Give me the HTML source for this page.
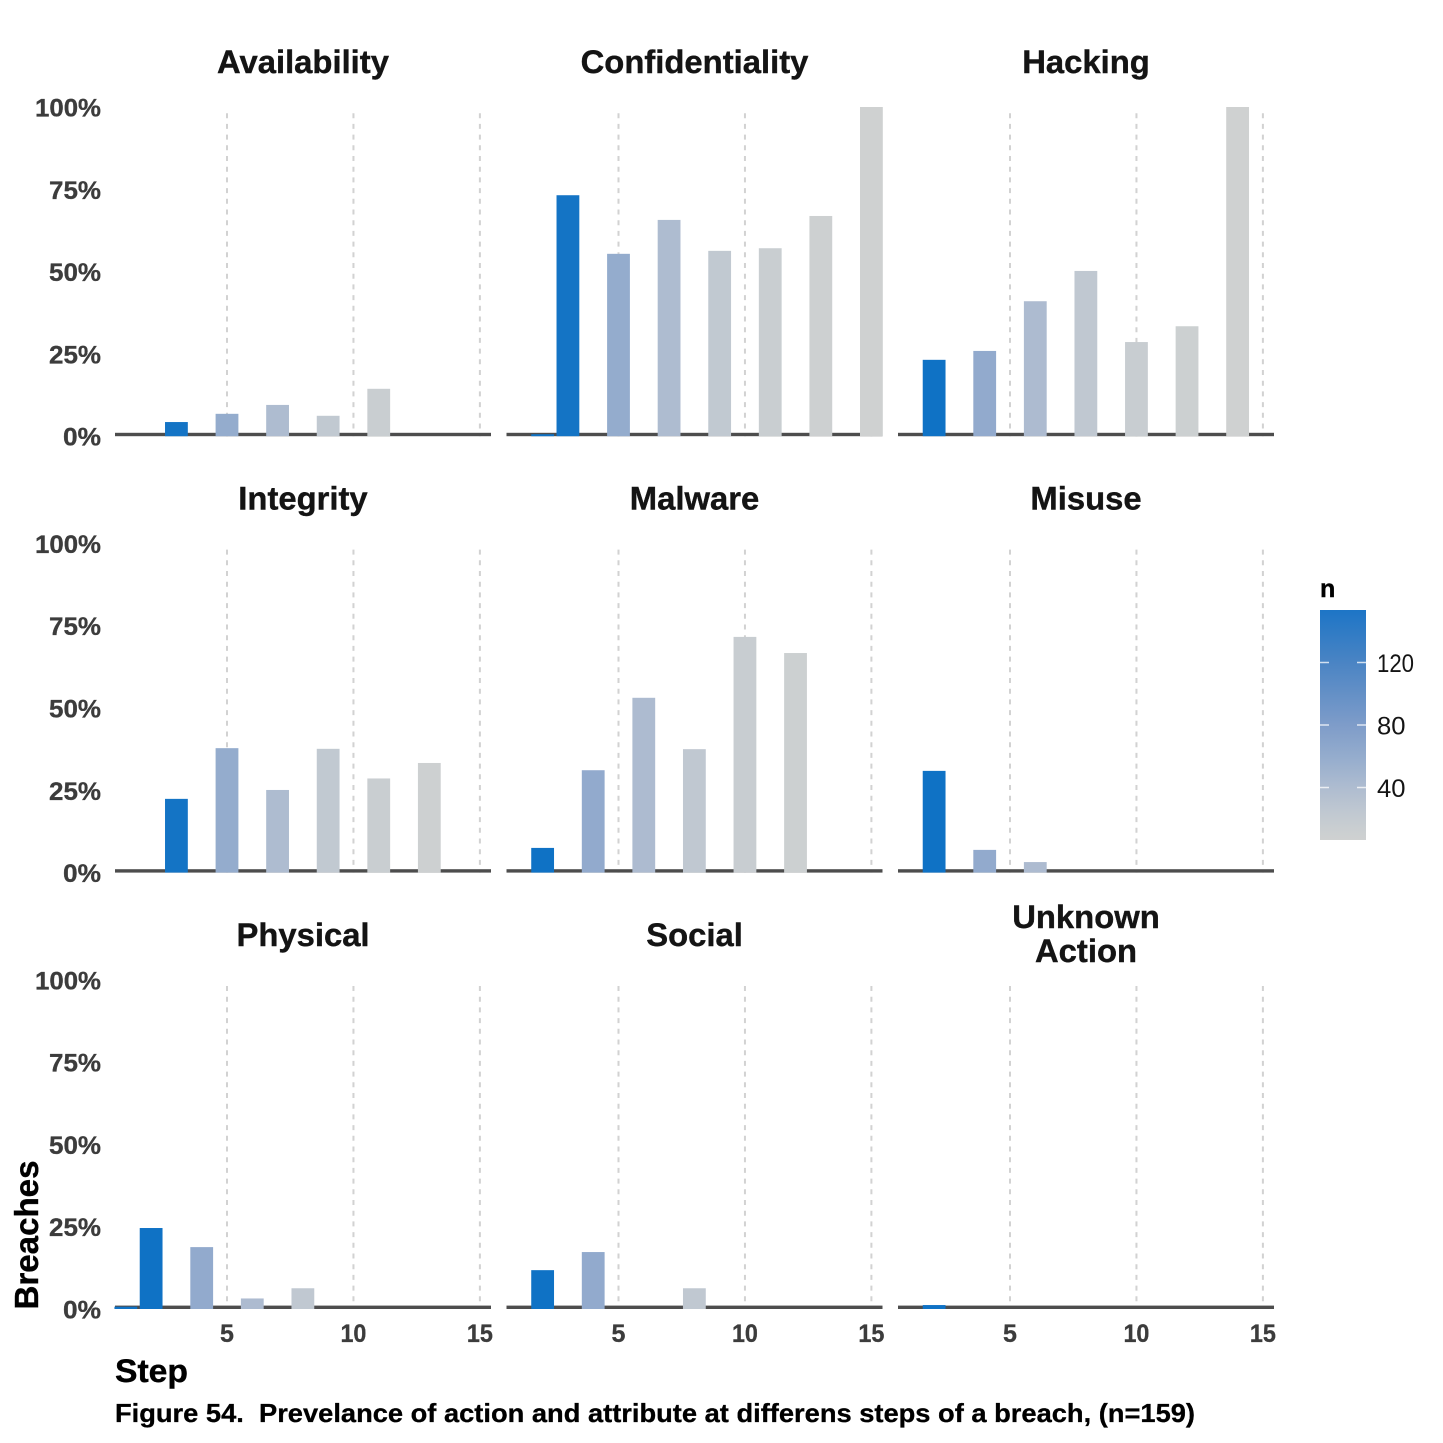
<!DOCTYPE html>
<html lang="en">
<head>
<meta charset="utf-8">
<title>Figure 54</title>
<style>
html,body{margin:0;padding:0;background:#fff;width:1443px;height:1443px;overflow:hidden}
svg{display:block;font-family:"Liberation Sans",Arial,sans-serif}
</style>
</head>
<body>
<svg id="chart" xmlns="http://www.w3.org/2000/svg" width="1443" height="1443" viewBox="0 0 1443 1443">
  <defs>
    <linearGradient id="legend-gradient" x1="0" y1="1" x2="0" y2="0"></linearGradient>
  </defs>
  <rect width="1443" height="1443" fill="#ffffff"></rect>
  <text transform="translate(38,1309.5) rotate(-90)" font-size="33" font-weight="700" fill="#000" stroke="#000" stroke-width="0.4" textLength="149" lengthAdjust="spacingAndGlyphs">Breaches</text>
  <text x="115" y="1382" font-size="32" font-weight="700" fill="#000" stroke="#000" stroke-width="0.4" textLength="73" lengthAdjust="spacingAndGlyphs">Step</text>
  <text x="115" y="1422" font-size="26" font-weight="700" fill="#000" stroke="#000" stroke-width="0.3" textLength="1080" lengthAdjust="spacingAndGlyphs" xml:space="preserve">Figure 54.  Prevelance of action and attribute at differens steps of a breach, (n=159)</text>
  <text x="1320" y="597" font-size="25" font-weight="700" fill="#000" stroke="#000" stroke-width="0.4">n</text>
</svg>
<script>
const steps = [1,2,3,4,5,6,7,8,9,10,11,12,13,14,15];
const stepCounts = [154,154,151,62,60,41,40,24,23,15,14,10,9,6,6];

const availability    = [0,0,4.3,0,6.8,0,9.5,0,6.2,0,14.4,0,0,0,0];
const confidentiality = [0,0.6,73.2,0,55.4,0,65.7,0,56.3,0,57.1,0,66.9,0,100];
const hacking         = [0,23.2,0,25.9,0,41,0,50.2,0,28.6,0,33.4,0,100,0];
const integrity       = [0,0,22.4,0,37.8,0,25.1,0,37.6,0,28.6,0,33.3,0,0];
const malware         = [0,7.5,0,31.1,0,53.1,0,37.5,0,71.6,0,66.7,0,0,0];
const misuse          = [0,30.9,0,6.9,0,3.2,0,0,0,0,0,0,0,0,0];
const physical        = [0.7,24.6,0,18.8,0,3.2,0,6.3,0,0,0,0,0,0,0];
const social          = [0,11.8,0,17.3,0,0,0,6.3,0,0,0,0,0,0,0];
const unknownAction   = [0,1.2,0,0,0,0,0,0,0,0,0,0,0,0,0];

const panelTitles = [["Availability"],["Confidentiality"],["Hacking"],["Integrity"],["Malware"],["Misuse"],["Physical"],["Social"],["Unknown","Action"]];
const panelSlugs = ["availability","confidentiality","hacking","integrity","malware","misuse","physical","social","unknown-action"];
const panelSeries = [availability,confidentiality,hacking,integrity,malware,misuse,physical,social,unknownAction];

const xTicks = [5,10,15];
const yTicks = [0,25,50,75,100];
const yTickLabels = ["0%","25%","50%","75%","100%"];
const legendTicks = [40,80,120];
const legendDomain = [6.4,153.6];
const colorCounts = [6,14,24,40,60,80,120,154];
const colorValues = ["#cfd1d1","#c9ced1","#c0c8d1","#aebcd0","#94accd","#7e9cc9","#4a84c4","#0f72c5"];
const legendTopColor = "#1d75c6";

const svg = document.getElementById('chart');
const NS = 'http://www.w3.org/2000/svg';

function make(tag, attrs, parent, text) {
  const el = document.createElementNS(NS, tag);
  for (const k in attrs) el.setAttribute(k, attrs[k]);
  if (text !== undefined) el.textContent = text;
  (parent || svg).appendChild(el);
  return el;
}
function xScale(col, step) { return 115 + col * 391.5 + 112 + (step - 5) * 25.29; }
function yZero(row) { return 436.2 + row * 436.4; }
function yScale(row, value) { return yZero(row) - value * 3.292; }
function hexToRgb(h) { return [1,3,5].map(function (i) { return parseInt(h.substr(i, 2), 16); }); }
function colorFor(n) {
  if (n <= colorCounts[0]) return colorValues[0];
  for (let i = 1; i < colorCounts.length; i++) {
    if (n <= colorCounts[i]) {
      const t = (n - colorCounts[i-1]) / (colorCounts[i] - colorCounts[i-1]);
      const a = hexToRgb(colorValues[i-1]);
      const b = hexToRgb(colorValues[i]);
      return 'rgb(' + a.map(function (v, j) { return Math.round(v + (b[j] - v) * t); }).join(',') + ')';
    }
  }
  return colorValues[colorValues.length - 1];
}

panelSeries.forEach(function (series, p) {
  const col = p % 3;
  const row = Math.floor(p / 3);
  const group = make('g', {});
  
  

  // title
  const lines = panelTitles[p];
  const titleX = 303 + col * 391.5;
  const titleBase = 73 + row * 436.4;
  lines.forEach(function (line, i) {
    const y = lines.length === 1 ? titleBase : titleBase - 18 + i * 34;
    const t = make('text', { x: titleX, y: y, 'text-anchor': 'middle', 'font-size': 32.8, 'font-weight': 700, fill: '#141414', stroke: '#141414', 'stroke-width': 0.4 }, group, line);
    
    
  });

  // gridlines
  xTicks.forEach(function (tick) {
    const x = xScale(col, tick);
    const g = make('line', { x1: x, x2: x, y1: yZero(row) - 323, y2: yZero(row), stroke: '#d2d2d2', 'stroke-width': 2, 'stroke-dasharray': '5 5.7' }, group);
    
    
  });

  // baseline
  const left = 115 + col * 391.5;
  const base = make('rect', { x: left, y: yZero(row) - 3.4, width: 376, height: 3.4, fill: '#4d4d4d' }, group);
  
  

  // bars
  series.forEach(function (value, i) {
    if (!value) return;
    const step = steps[i];
    const top = yScale(row, value);
    const r = make('rect', { x: xScale(col, step) - 11.4, y: top, width: 22.8, height: yZero(row) - top, fill: colorFor(stepCounts[i]) }, group);
    
    
  });

  // y tick labels (left column)
  if (col === 0) {
    yTicks.forEach(function (tick, i) {
      const widths = [38, 52, 52, 52, 66];
      const lab = make('text', { x: 101, y: yScale(row, tick) + 9.5, 'text-anchor': 'end', 'font-size': 25, 'font-weight': 700, fill: '#3c3c3c', stroke: '#3c3c3c', 'stroke-width': 0.3, textLength: widths[i], lengthAdjust: 'spacingAndGlyphs' }, group, yTickLabels[i]);
      
      
    });
  }

  // x tick labels (bottom row)
  if (row === 2) {
    xTicks.forEach(function (tick) {
      const tickText = String(tick);
      const attrs = { x: xScale(col, tick), y: 1342, 'text-anchor': 'middle', 'font-size': 25, 'font-weight': 700, fill: '#3c3c3c', stroke: '#3c3c3c', 'stroke-width': 0.3 };
      if (tickText.length > 1) { attrs.textLength = 26; attrs.lengthAdjust = 'spacingAndGlyphs'; }
      const lab = make('text', attrs, group, tickText);
      
      
    });
  }
});

// legend colour bar
const grad = document.getElementById('legend-gradient');
colorCounts.forEach(function (n, i) {
  const off = Math.max(0, Math.min(1, (n - legendDomain[0]) / (legendDomain[1] - legendDomain[0])));
  const stopColor = i === colorCounts.length - 1 ? legendTopColor : colorValues[i];
  make('stop', { offset: off, 'stop-color': stopColor }, grad);
});
const legendTop = 610;
const legendBottom = 840;
function legendY(n) { return legendBottom - (n - legendDomain[0]) / (legendDomain[1] - legendDomain[0]) * (legendBottom - legendTop); }
const legendBar = make('rect', { x: 1320, y: legendTop, width: 46, height: legendBottom - legendTop, fill: 'url(#legend-gradient)' });


legendTicks.forEach(function (n) {
  const y = legendY(n);
  const tl = make('line', { x1: 1320, x2: 1329, y1: y, y2: y, stroke: '#ffffff', 'stroke-opacity': 0.75, 'stroke-width': 1.5 });
  
  
  const tr = make('line', { x1: 1357, x2: 1366, y1: y, y2: y, stroke: '#ffffff', 'stroke-opacity': 0.75, 'stroke-width': 1.5 });
  
  
  const labelText = String(n);
  const lab = make('text', { x: 1377, y: y + 9.7, 'font-size': 25, fill: '#141414', textLength: labelText.length > 2 ? 37 : 28.5, lengthAdjust: 'spacingAndGlyphs' }, svg, labelText);
  
  
});
</script>
</body>
</html>
